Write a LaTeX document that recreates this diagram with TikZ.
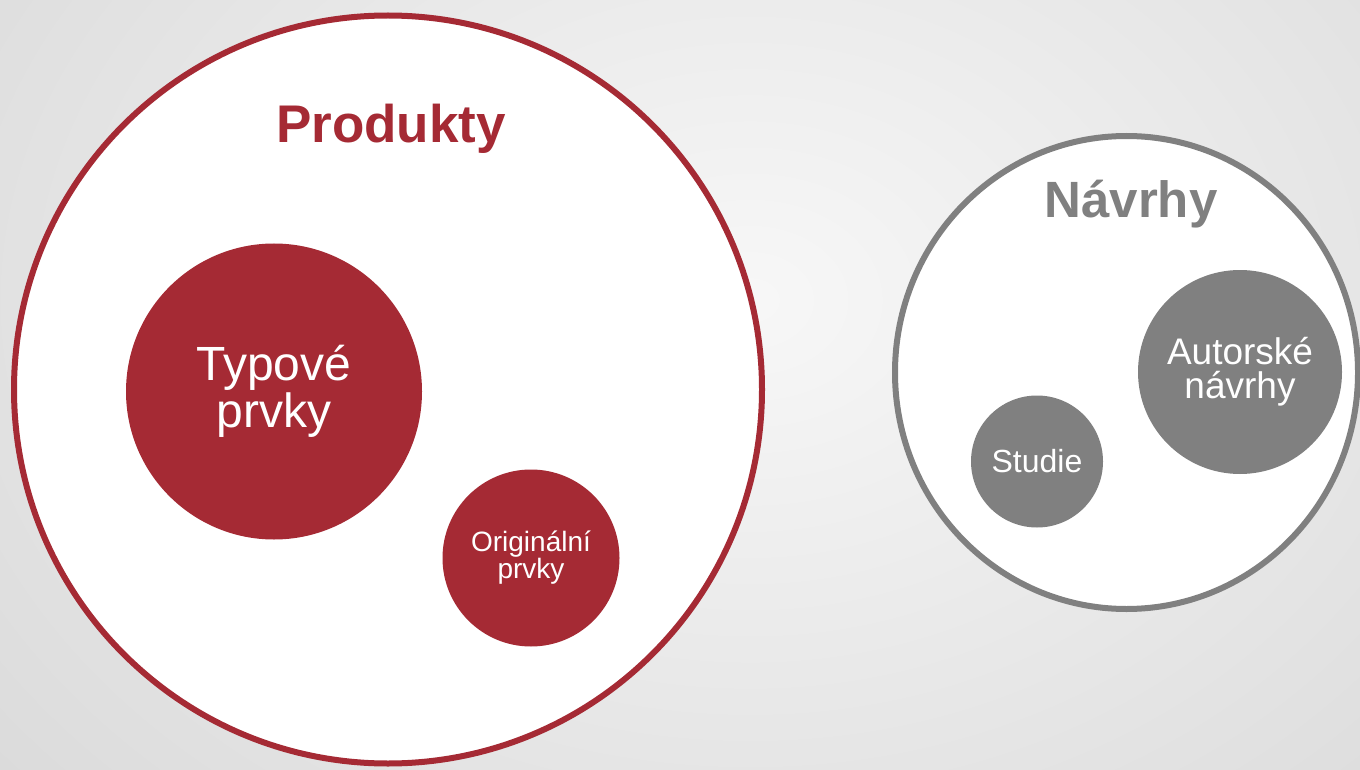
\documentclass[tikz,border=0pt]{standalone}
\usepackage{fontspec}
\setmainfont{Liberation Sans}
\usetikzlibrary{shapes.geometric}
\definecolor{pred}{HTML}{A52A34}
\definecolor{pgray}{HTML}{808080}
\begin{document}
\begin{tikzpicture}[x=1pt,y=-1pt,
  ring/.style={draw, fill=white, line width=6pt, inner sep=0pt},
  blob/.style={circle, fill=#1, inner sep=0pt, text=white, align=center},
  title/.style={anchor=base, font=\bfseries\fontsize{#1}{#1}\selectfont}]
\useasboundingbox (0,0) rectangle (1360,770);
\shade[inner color=white!97!black, outer color=white!85!black] (-300,-500) rectangle (1800,1100);
\node[ring, circle, draw=pred, minimum size=748pt] (prod) at (388,389.5) {};
\node[ring, ellipse, draw=pgray, minimum width=463pt, minimum height=473pt] (navr) at (1126.5,372.5) {};
\node[title=53, text=pred] (prodt) at (391,143) {Produkty};
\node[title=51, text=pgray] (navrt) at (1131,218) {Návrhy};
\node[blob=pred, minimum size=296pt, font=\fontsize{48}{47}\selectfont] (typ) at (274,391.5) {Typové\\prvky};
\node[blob=pred, minimum size=177pt, font=\fontsize{28}{27}\selectfont] (orig) at (531,558) {Originální\\prvky};
\node[blob=pgray, minimum size=204pt, font=\fontsize{37}{34}\selectfont] (aut) at (1240,372) {Autorské\\návrhy};
\node[blob=pgray, minimum size=132pt, font=\fontsize{32}{32}\selectfont] (stud) at (1037,461.5) {Studie};
\end{tikzpicture}
\end{document}
